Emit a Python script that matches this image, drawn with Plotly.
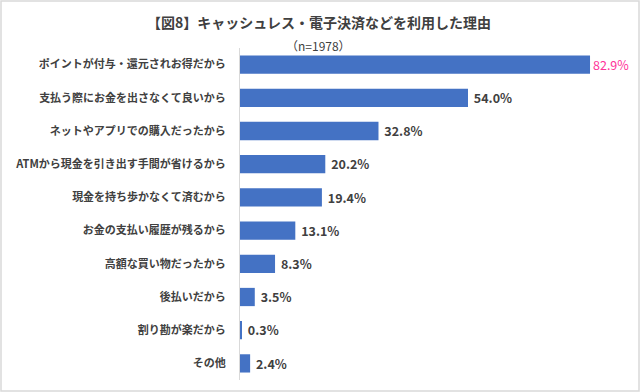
import plotly.graph_objects as go

categories = [
    "ポイントが付与・還元されお得だから",
    "支払う際にお金を出さなくて良いから",
    "ネットやアプリでの購入だったから",
    "ATMから現金を引き出す手間が省けるから",
    "現金を持ち歩かなくて済むから",
    "お金の支払い履歴が残るから",
    "高額な買い物だったから",
    "後払いだから",
    "割り勘が楽だから",
    "その他",
]
values = [82.9, 54.0, 32.8, 20.2, 19.4, 13.1, 8.3, 3.5, 0.3, 2.4]
value_labels = ["82.9%", "54.0%", "32.8%", "20.2%", "19.4%", "13.1%", "8.3%", "3.5%", "0.3%", "2.4%"]
label_colors = ["#FF3399"] + ["#404040"] * 9
label_weights = ["normal"] + ["bold"] * 9

title_text = "【図8】キャッシュレス・電子決済などを利用した理由"
n_text = "（n=1978）"

W, H = 640, 392
ML, MR, MT, MB = 240, 20, 48, 12
FONT = "Noto Sans CJK JP"

shown_labels = [lab if i == 0 else "\u00a0" + lab for i, lab in enumerate(value_labels)]

fig = go.Figure()
fig.add_trace(go.Bar(
    y=categories,
    x=values,
    orientation="h",
    marker=dict(color="#4472C4", line=dict(width=0)),
    width=0.55,
    text=shown_labels,
    textposition="outside",
    textfont=dict(family=FONT, size=13, color=label_colors, weight=label_weights),
    cliponaxis=False,
    hoverinfo="skip",
))

pw = W - ML - MR
ph = H - MT - MB
fig.update_layout(
    width=W, height=H,
    margin=dict(l=ML, r=MR, t=MT, b=MB, autoexpand=False),
    paper_bgcolor="white",
    plot_bgcolor="white",
    showlegend=False,
    font=dict(family=FONT, color="#404040"),
    xaxis=dict(range=[0, 90], visible=False, showgrid=False, zeroline=False, automargin=False),
    yaxis=dict(
        autorange="reversed",
        automargin=False,
        showline=True, linecolor="#d9d9d9", linewidth=1,
        showgrid=False, ticks="", ticklen=0,
        tickfont=dict(family=FONT, size=11, color="#404040", weight="bold"),
        ticklabelstandoff=11,
    ),
    annotations=[
        dict(text=title_text, xref="paper", yref="paper",
             x=(319 - ML) / pw, y=1 + (MT - 22) / ph, xanchor="center", yanchor="middle",
             showarrow=False, font=dict(family=FONT, size=14, color="#404040", weight="bold")),
        dict(text=n_text, xref="paper", yref="paper",
             x=(318 - ML) / pw, y=1 + (MT - 46) / ph, xanchor="center", yanchor="middle",
             showarrow=False, font=dict(family=FONT, size=12, color="#404040")),
    ],
    shapes=[
        dict(type="rect", xref="paper", yref="paper",
             x0=(1 - ML) / pw, x1=(W - 1 - ML) / pw,
             y0=-(MB - 1) / ph, y1=1 + (MT - 1) / ph,
             line=dict(color="#d9d9d9", width=1.5), fillcolor="rgba(0,0,0,0)", layer="above"),
    ],
    bargap=0.45,
)

fig.write_html("out.html", config={"displayModeBar": False},
               post_script="document.body.style.margin='0';")
